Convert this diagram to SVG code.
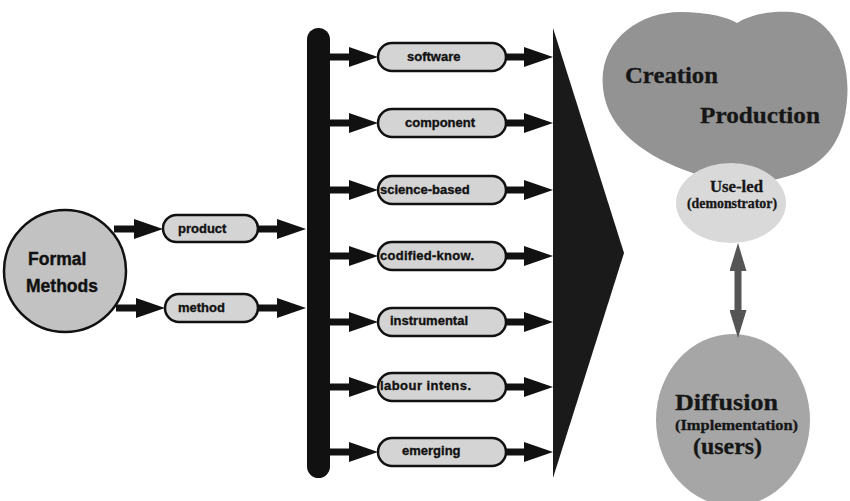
<svg xmlns="http://www.w3.org/2000/svg" width="850" height="501" viewBox="0 0 850 501">
  <style>
    .pill { fill: #d4d4d4; stroke: #111; stroke-width: 2.5; }
    .pilltxt { font-family: "Liberation Sans", Arial, sans-serif; font-weight: bold; font-size: 13px; fill: #111; stroke: #111; stroke-width: 0.35; }
    .fmtxt { font-family: "Liberation Sans", Arial, sans-serif; font-weight: bold; font-size: 17.5px; fill: #111; stroke: #111; stroke-width: 0.4; }
    .flow { stroke: #111; stroke-width: 7; fill: none; marker-end: url(#head); }
    .serif { font-family: "Liberation Serif", "Times New Roman", serif; font-weight: bold; fill: #161616; stroke: #161616; stroke-width: 0.3; }
  </style>
  <defs>
    <marker id="head" viewBox="0 -10 29 20" refX="0" refY="0" markerWidth="29" markerHeight="20" markerUnits="userSpaceOnUse" orient="auto">
      <path d="M0,-10 L29,0 L0,10 Z" fill="#111"/>
    </marker>
    <marker id="grayhead" viewBox="0 -8.5 28 17" refX="0" refY="0" markerWidth="28" markerHeight="17" markerUnits="userSpaceOnUse" orient="auto-start-reverse">
      <path d="M0,-8.5 L28,0 L0,8.5 Z" fill="#555"/>
    </marker>
  </defs>

  <!-- source node -->
  <g id="formal-methods">
    <ellipse cx="65" cy="271" rx="61" ry="61" fill="#c2c2c2" stroke="#111" stroke-width="2.5"/>
    <text class="fmtxt" x="28" y="265">Formal</text>
    <text class="fmtxt" x="26" y="292">Methods</text>
  </g>

  <g id="product">
    <rect class="pill" x="163" y="215" width="95" height="27" rx="13.5"/>
    <text class="pilltxt" x="178" y="233">product</text>
  </g>
  <g id="method">
    <rect class="pill" x="165" y="294" width="93" height="28" rx="14"/>
    <text class="pilltxt" x="178" y="312">method</text>
  </g>

  <!-- collector bar -->
  <g id="bar">
    <rect x="307" y="28" width="23" height="450" rx="11.5" fill="#111"/>
  </g>

  <!-- category pills -->
  <g id="software">
    <rect class="pill" x="378" y="43" width="128" height="28" rx="14"/>
    <text class="pilltxt" x="407" y="61">software</text>
  </g>
  <g id="component">
    <rect class="pill" x="378" y="109" width="128" height="28" rx="14"/>
    <text class="pilltxt" x="405" y="127">component</text>
  </g>
  <g id="science-based">
    <rect class="pill" x="378" y="176" width="128" height="28" rx="14"/>
    <text class="pilltxt" x="380" y="194">science-based</text>
  </g>
  <g id="codified-know">
    <rect class="pill" x="378" y="242" width="128" height="28" rx="14"/>
    <text class="pilltxt" x="380" y="260" textLength="94">codified-know.</text>
  </g>
  <g id="instrumental">
    <rect class="pill" x="378" y="308" width="128" height="28" rx="14"/>
    <text class="pilltxt" x="390" y="325">instrumental</text>
  </g>
  <g id="labour-intens">
    <rect class="pill" x="378" y="373" width="128" height="28" rx="14"/>
    <text class="pilltxt" x="380" y="390" textLength="91">labour intens.</text>
  </g>
  <g id="emerging">
    <rect class="pill" x="378" y="438" width="128" height="28" rx="14"/>
    <text class="pilltxt" x="402" y="455">emerging</text>
  </g>

  <!-- funnel -->
  <g id="funnel">
    <polygon points="553,28 624,253 553,478" fill="#1a1a1a"/>
  </g>

  <!-- outcome clusters -->
  <g id="creation-production">
    <path d="M603,88 C598,40 640,12 680,12 C708,12 727,17 737,23 C752,14 770,11 792,12 C830,15 851,55 847,100 C844,140 826,163 795,174 C760,186 722,186 690,172 C650,158 607,132 603,88 Z" fill="#939393"/>
    <text class="serif" x="625" y="83" font-size="24" textLength="93" lengthAdjust="spacingAndGlyphs">Creation</text>
    <text class="serif" x="700" y="123" font-size="24" textLength="120" lengthAdjust="spacingAndGlyphs">Production</text>
  </g>
  <g id="use-led">
    <ellipse cx="731" cy="203" rx="55" ry="40" fill="#d9d9d9"/>
    <text class="serif" x="710" y="192" font-size="16" textLength="53" lengthAdjust="spacingAndGlyphs">Use-led</text>
    <text class="serif" x="687" y="208" font-size="14" textLength="90" lengthAdjust="spacingAndGlyphs">(demonstrator)</text>
  </g>
  <g id="diffusion">
    <ellipse cx="733" cy="420" rx="77" ry="86" fill="#a6a6a6"/>
    <text class="serif" x="675" y="410" font-size="23" textLength="103" lengthAdjust="spacingAndGlyphs">Diffusion</text>
    <text class="serif" x="675" y="430" font-size="15" textLength="123" lengthAdjust="spacingAndGlyphs">(Implementation)</text>
    <text class="serif" x="693" y="454" font-size="23" textLength="69" lengthAdjust="spacingAndGlyphs">(users)</text>
  </g>

  <!-- connectors -->
  <g id="connectors">
    <line class="flow" x1="114" y1="229" x2="134" y2="229"/>
    <line class="flow" x1="116" y1="308" x2="136" y2="308"/>
    <line class="flow" x1="258" y1="229" x2="277" y2="229"/>
    <line class="flow" x1="258" y1="308" x2="277" y2="308"/>

    <line class="flow" x1="330" y1="57" x2="349" y2="57"/>
    <line class="flow" x1="330" y1="123" x2="349" y2="123"/>
    <line class="flow" x1="330" y1="190" x2="349" y2="190"/>
    <line class="flow" x1="330" y1="256" x2="349" y2="256"/>
    <line class="flow" x1="330" y1="322" x2="349" y2="322"/>
    <line class="flow" x1="330" y1="387" x2="349" y2="387"/>
    <line class="flow" x1="330" y1="452" x2="349" y2="452"/>

    <line class="flow" x1="506" y1="57" x2="524" y2="57"/>
    <line class="flow" x1="506" y1="123" x2="524" y2="123"/>
    <line class="flow" x1="506" y1="190" x2="524" y2="190"/>
    <line class="flow" x1="506" y1="256" x2="524" y2="256"/>
    <line class="flow" x1="506" y1="322" x2="524" y2="322"/>
    <line class="flow" x1="506" y1="387" x2="524" y2="387"/>
    <line class="flow" x1="506" y1="452" x2="524" y2="452"/>

    <line x1="738" y1="271" x2="738" y2="310" stroke="#555" stroke-width="7" marker-start="url(#grayhead)" marker-end="url(#grayhead)"/>
  </g>
</svg>
